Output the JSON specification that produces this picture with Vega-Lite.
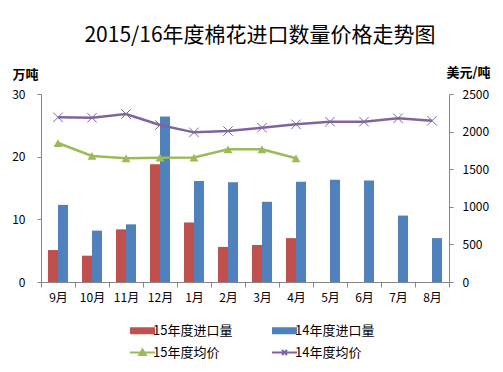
{
  "$schema": "https://vega.github.io/schema/vega-lite/v6.json",
  "width": 408,
  "height": 188,
  "autosize": "none",
  "padding": {"left": 41, "top": 94, "right": 54, "bottom": 90},
  "background": "white",
  "config": {
    "font": "Noto Sans CJK SC",
    "view": {"stroke": null},
    "axis": {"grid": false, "domainColor": "#868686", "tickColor": "#868686", "labelColor": "#000000", "labelFontSize": 12, "labelFont": "Noto Sans CJK SC", "titleColor": "#000000", "titleFont": "Noto Sans CJK SC"}
  },
  "title": {"text": "2015/16年度棉花进口数量价格走势图", "fontSize": 21, "font": "Noto Sans CJK SC", "fontWeight": "normal", "color": "#000000", "anchor": "middle", "dx": 15, "offset": 20},
  "data": {"values": [
    {"month": "9月", "series": "15年度进口量", "value": 5.1},
    {"month": "10月", "series": "15年度进口量", "value": 4.2},
    {"month": "11月", "series": "15年度进口量", "value": 8.4},
    {"month": "12月", "series": "15年度进口量", "value": 18.8},
    {"month": "1月", "series": "15年度进口量", "value": 9.5},
    {"month": "2月", "series": "15年度进口量", "value": 5.6},
    {"month": "3月", "series": "15年度进口量", "value": 5.9},
    {"month": "4月", "series": "15年度进口量", "value": 7.0},
    {"month": "9月", "series": "14年度进口量", "value": 12.3},
    {"month": "10月", "series": "14年度进口量", "value": 8.2},
    {"month": "11月", "series": "14年度进口量", "value": 9.2},
    {"month": "12月", "series": "14年度进口量", "value": 26.4},
    {"month": "1月", "series": "14年度进口量", "value": 16.1},
    {"month": "2月", "series": "14年度进口量", "value": 15.9},
    {"month": "3月", "series": "14年度进口量", "value": 12.8},
    {"month": "4月", "series": "14年度进口量", "value": 16.0},
    {"month": "5月", "series": "14年度进口量", "value": 16.3},
    {"month": "6月", "series": "14年度进口量", "value": 16.2},
    {"month": "7月", "series": "14年度进口量", "value": 10.6},
    {"month": "8月", "series": "14年度进口量", "value": 7.0},
    {"month": "9月", "series": "15年度均价", "value": 1848},
    {"month": "10月", "series": "15年度均价", "value": 1676},
    {"month": "11月", "series": "15年度均价", "value": 1645},
    {"month": "12月", "series": "15年度均价", "value": 1653},
    {"month": "1月", "series": "15年度均价", "value": 1655},
    {"month": "2月", "series": "15年度均价", "value": 1764},
    {"month": "3月", "series": "15年度均价", "value": 1764},
    {"month": "4月", "series": "15年度均价", "value": 1645},
    {"month": "9月", "series": "14年度均价", "value": 2190},
    {"month": "10月", "series": "14年度均价", "value": 2185},
    {"month": "11月", "series": "14年度均价", "value": 2234},
    {"month": "12月", "series": "14年度均价", "value": 2088},
    {"month": "1月", "series": "14年度均价", "value": 1990},
    {"month": "2月", "series": "14年度均价", "value": 2008},
    {"month": "3月", "series": "14年度均价", "value": 2052},
    {"month": "4月", "series": "14年度均价", "value": 2097},
    {"month": "5月", "series": "14年度均价", "value": 2132},
    {"month": "6月", "series": "14年度均价", "value": 2132},
    {"month": "7月", "series": "14年度均价", "value": 2177},
    {"month": "8月", "series": "14年度均价", "value": 2145}
  ]},
  "encoding": {
    "x": {
      "field": "month", "type": "nominal",
      "scale": {"domain": ["9月", "10月", "11月", "12月", "1月", "2月", "3月", "4月", "5月", "6月", "7月", "8月"], "paddingInner": 0, "paddingOuter": 0},
      "axis": {"title": null, "labelAngle": 0, "tickBand": "extent", "tickSize": 5, "labelPadding": 5}
    }
  },
  "layer": [
    {
      "transform": [{"filter": "datum.series === '15年度进口量' || datum.series === '14年度进口量'"}],
      "mark": {"type": "bar"},
      "encoding": {
        "xOffset": {"field": "series", "type": "nominal", "scale": {"domain": ["15年度进口量", "14年度进口量"], "paddingOuter": 0.7, "paddingInner": 0}},
        "y": {"field": "value", "type": "quantitative", "scale": {"domain": [0, 30], "nice": false},
          "axis": {"values": [0, 10, 20, 30], "title": "万吨", "titleAngle": 0, "titleX": -16, "titleY": -20, "titleAlign": "center", "titleBaseline": "middle", "titleFontSize": 13, "titleFontWeight": "bold", "tickSize": 4, "labelPadding": 12}},
        "color": {"field": "series", "type": "nominal",
          "scale": {"domain": ["15年度进口量", "15年度均价", "14年度进口量", "14年度均价"], "range": ["#C0504D", "#9BBB59", "#4F81BD", "#8064A2"]},
          "legend": {
            "title": null, "orient": "none", "legendX": 95, "legendY": 230, "columns": 2, "columnPadding": 35, "rowPadding": 7,
            "symbolSize": 625, "labelFontSize": 13, "labelOffset": 4, "labelColor": "#000000", "labelFont": "Noto Sans CJK SC",
            "encode": {"symbols": {"update": {
              "shape": {"signal": "(datum.value === '15年度进口量' || datum.value === '14年度进口量') ? 'M-1,-0.28H1V0.28H-1Z' : (datum.value === '15年度均价' ? 'M-1,0H1M-0.26,0.2L0,-0.24L0.26,0.2Z' : 'M-1,0H1M-0.2,-0.2L0.2,0.2M-0.2,0.2L0.2,-0.2')"},
              "fill": {"signal": "scale('color', datum.value)"},
              "stroke": {"signal": "scale('color', datum.value)"},
              "strokeWidth": {"signal": "(datum.value === '15年度进口量' || datum.value === '14年度进口量') ? 0 : 2"},
              "opacity": {"value": 1},
              "fillOpacity": {"value": 1}
            }}}
          }}
      }
    },
    {
      "encoding": {
        "y": {"field": "value", "type": "quantitative", "scale": {"domain": [0, 2500], "nice": false},
          "axis": {"orient": "right", "values": [0, 500, 1000, 1500, 2000, 2500], "format": "d", "title": "美元/吨", "titleAngle": 0, "titleX": 19, "titleY": -22, "titleAlign": "center", "titleBaseline": "middle", "titleFontSize": 13, "titleFontWeight": "bold", "tickSize": 4, "labelPadding": 9}},
        "color": {"field": "series", "type": "nominal"}
      },
      "layer": [
        {"transform": [{"filter": "datum.series === '15年度均价'"}], "mark": {"type": "line", "strokeWidth": 2.5}},
        {"transform": [{"filter": "datum.series === '14年度均价'"}], "mark": {"type": "line", "strokeWidth": 2.5}},
        {"transform": [{"filter": "datum.series === '15年度均价'"}], "mark": {"type": "point", "shape": "triangle-up", "filled": true, "size": 80, "opacity": 1}},
        {"transform": [{"filter": "datum.series === '14年度均价'"}], "mark": {"type": "point", "shape": "M-1,-1L1,1M-1,1L1,-1", "filled": false, "size": 90, "strokeWidth": 1, "opacity": 1}}
      ]
    }
  ],
  "resolve": {"scale": {"y": "independent"}}
}
